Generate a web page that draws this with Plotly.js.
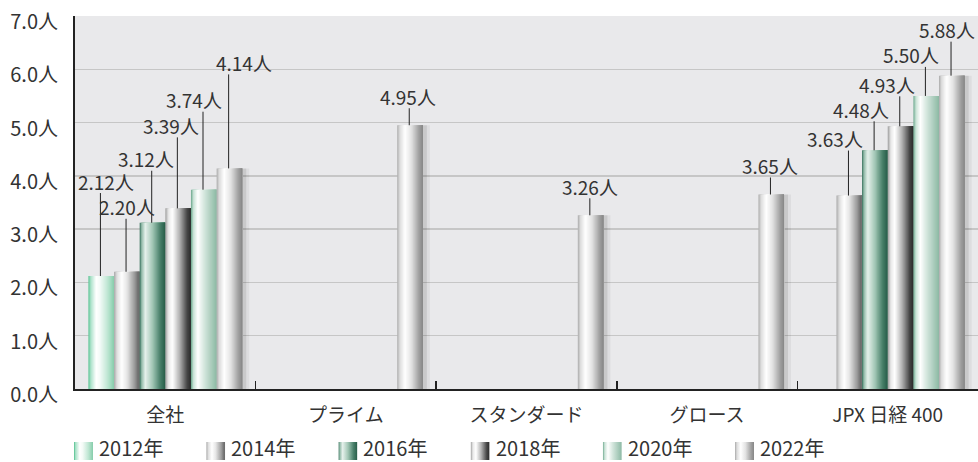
<!DOCTYPE html>
<html>
<head>
<meta charset="utf-8">
<script src="https://cdn.plot.ly/plotly-3.0.1.min.js"></script>
<style>
  html, body { margin: 0; padding: 0; background: #ffffff; }
  #chart { width: 978px; height: 462px; }
</style>
</head>
<body>
<div id="chart"></div>
<script>
// ---- data ----
const categories = ['全社', 'プライム', 'スタンダード', 'グロース', 'JPX 日経 400'];
const years = ['2012年', '2014年', '2016年', '2018年', '2020年', '2022年'];
const v2012 = [2.12, null, null, null, null];
const v2014 = [2.20, null, null, null, 3.63];
const v2016 = [3.12, null, null, null, 4.48];
const v2018 = [3.39, null, null, null, 4.93];
const v2020 = [3.74, null, null, null, 5.50];
const v2022 = [4.14, 4.95, 3.26, 3.65, 5.88];
const seriesValues = [v2012, v2014, v2016, v2018, v2020, v2022];
const yTicks = [0, 1, 2, 3, 4, 5, 6, 7];
const yTickText = yTicks.map(v => v.toFixed(1) + '人');

// ---- styling ----
// horizontal gradient of each series (cylinder look)
const gradients = [
  [[0, '#4fbf8c'], [0.08, '#a6e0c6'], [0.3, '#ffffff'], [0.45, '#f4fbf7'], [0.75, '#bfe6d3'], [1, '#86cdab']],
  [[0, '#a8a8a8'], [0.12, '#e0e0e0'], [0.3, '#ffffff'], [0.5, '#e6e6e6'], [0.8, '#9c9c9c'], [0.95, '#6a6a6a'], [1, '#787878']],
  [[0, '#2a6650'], [0.07, '#8fb8a6'], [0.22, '#e6f1ec'], [0.5, '#a3c7b6'], [0.8, '#487f69'], [1, '#275c48']],
  [[0, '#9a9a9a'], [0.12, '#e8e8e8'], [0.28, '#ffffff'], [0.55, '#b5b5b5'], [0.85, '#474747'], [1, '#2a2a2a']],
  [[0, '#6aa68b'], [0.1, '#c9e2d6'], [0.27, '#ffffff'], [0.55, '#cfe3d9'], [1, '#8cb9a4']],
  [[0, '#a9a9a9'], [0.1, '#dcdcdc'], [0.3, '#ffffff'], [0.55, '#e3e3e3'], [0.85, '#a0a0a0'], [1, '#878787']]
];

// value-label leader lines: length in px and horizontal label nudge in px
const leaderLen = [
  [83, null, null, null, null],
  [53, null, null, null, 45],
  [52, null, null, null, 29],
  [71, null, null, null, 30],
  [78, null, null, null, 29],
  [94, 17, 17, 17, 34]
];
const labelNudge = [
  [6, 0, 0, 0, 0],
  [1, 0, 0, 0, -13],
  [-6, 0, 0, 0, -13],
  [-6, 0, 0, 0, -13],
  [-9, 0, 0, 0, -14],
  [15, -1, 0, 0, -4]
];

const FONT = '"Noto Sans CJK JP", "Noto Sans", sans-serif';
const TEXT = '#333333';
const M = { l: 75, r: 0, t: 16, b: 73 };
const W = 978, H = 462;
const plotW = W - M.l - M.r, plotH = H - M.t - M.b;
const catPx = plotW / categories.length;

const groupW = 0.852;
const barW = groupW / years.length;
const STRIPS = 24;

function hexRgb(h) {
  return [parseInt(h.slice(1, 3), 16), parseInt(h.slice(3, 5), 16), parseInt(h.slice(5, 7), 16)];
}
function colorAt(stops, t) {
  for (let i = 1; i < stops.length; i++) {
    if (t <= stops[i][0]) {
      const a = stops[i - 1], b = stops[i];
      const f = (t - a[0]) / (b[0] - a[0]);
      const ca = hexRgb(a[1]), cb = hexRgb(b[1]);
      const c = ca.map((v, k) => Math.round(v + (cb[k] - v) * f));
      return 'rgb(' + c.join(',') + ')';
    }
  }
  return stops[stops.length - 1][1];
}

const traces = [];

// soft drop shadow to the right of every bar
seriesValues.forEach((vals, s) => {
  const left = -groupW / 2 + s * barW;
  [[7 / catPx, 'rgba(0,0,0,0.05)'], [4 / catPx, 'rgba(0,0,0,0.09)']].forEach(([dx, col]) => {
    traces.push({
      type: 'bar', x: categories, y: vals,
      offset: left + dx, width: barW,
      marker: { color: col, line: { width: 0 } },
      hoverinfo: 'skip', showlegend: false
    });
  });
});

// bars as overlapping strips that paint the horizontal gradient
seriesValues.forEach((vals, s) => {
  const left = -groupW / 2 + s * barW;
  for (let k = 0; k < STRIPS; k++) {
    traces.push({
      type: 'bar', x: categories, y: vals, name: years[s],
      offset: left + k * barW / STRIPS,
      width: barW * (1 - k / STRIPS),
      marker: { color: colorAt(gradients[s], (k + 0.5) / STRIPS), line: { width: 0 } },
      hoverinfo: k === 0 ? 'x+y+name' : 'skip',
      showlegend: false
    });
  }
});

// value labels with leader lines
const shapes = [];
const annotations = [];
seriesValues.forEach((vals, s) => {
  const left = -groupW / 2 + s * barW;
  vals.forEach((v, c) => {
    if (v === null) return;
    const xPos = c + left + barW * 0.47;
    const len = leaderLen[s][c];
    shapes.push({
      type: 'line', xref: 'x', yref: 'y', ysizemode: 'pixel', yanchor: v,
      x0: xPos, x1: xPos, y0: 0, y1: len,
      line: { color: '#222', width: 1 }
    });
    annotations.push({
      xref: 'x', yref: 'y', x: xPos, y: v,
      text: v.toFixed(2) + '人', showarrow: false,
      xanchor: 'center', yanchor: 'middle',
      xshift: labelNudge[s][c], yshift: len + 12,
      font: { family: FONT, size: 19, color: TEXT }
    });
  });
});

// legend: gradient swatches and year labels below the axis
function gradSvg(stops) {
  const st = stops.map(([p, c]) => '<stop offset="' + p + '" stop-color="' + c + '"/>').join('');
  const svg = '<svg xmlns="http://www.w3.org/2000/svg" width="20" height="20" viewBox="0 0 20 20" preserveAspectRatio="none">' +
    '<defs><linearGradient id="g" x1="0" x2="1" y1="0" y2="0">' + st + '</linearGradient></defs>' +
    '<rect width="20" height="20" fill="url(#g)"/></svg>';
  return 'data:image/svg+xml;charset=utf-8,' + encodeURIComponent(svg);
}
const px2x = p => (p - M.l) / plotW;
const px2y = p => (M.t + plotH - p) / plotH;
const images = [];
years.forEach((yr, s) => {
  const sx = 74 + s * 132.2;
  images.push({
    source: gradSvg(gradients[s]), xref: 'paper', yref: 'paper',
    x: px2x(sx), y: px2y(442), sizex: 19 / plotW, sizey: 18 / plotH,
    xanchor: 'left', yanchor: 'top', sizing: 'stretch', layer: 'above'
  });
  annotations.push({
    xref: 'paper', yref: 'paper', x: px2x(sx + 24), y: px2y(447.5),
    xanchor: 'left', yanchor: 'middle', showarrow: false, text: yr,
    borderpad: 0,
    font: { family: FONT, size: 20, color: TEXT }
  });
});

const layout = {
  width: W, height: H,
  margin: { l: M.l, r: M.r, t: M.t, b: M.b, pad: 0 },
  paper_bgcolor: '#ffffff',
  plot_bgcolor: '#e9e9eb',
  barmode: 'overlay',
  showlegend: false,
  font: { family: FONT, color: TEXT },
  xaxis: {
    type: 'category', categoryorder: 'array', categoryarray: categories,
    range: [-0.5, categories.length - 0.5],
    showgrid: false, zeroline: false,
    showline: true, linecolor: '#222', linewidth: 2,
    ticks: 'inside', tickson: 'boundaries', ticklen: 8, tickwidth: 1.5, tickcolor: '#222',
    ticklabelstandoff: 8,
    tickfont: { family: FONT, size: 19, color: TEXT },
    fixedrange: true
  },
  yaxis: {
    range: [0, 7], tickmode: 'array', tickvals: yTicks, ticktext: yTickText,
    showgrid: true, gridcolor: '#c6c6c6', gridwidth: 1.5,
    zeroline: false, showline: true, linecolor: '#222', linewidth: 2,
    ticks: '', ticklabelstandoff: 11, ticklabelshift: 6,
    tickfont: { family: FONT, size: 20, color: TEXT },
    fixedrange: true
  },
  shapes: shapes,
  annotations: annotations,
  images: images
};

Plotly.newPlot('chart', traces, layout, { displayModeBar: false, staticPlot: true });
</script>
</body>
</html>
